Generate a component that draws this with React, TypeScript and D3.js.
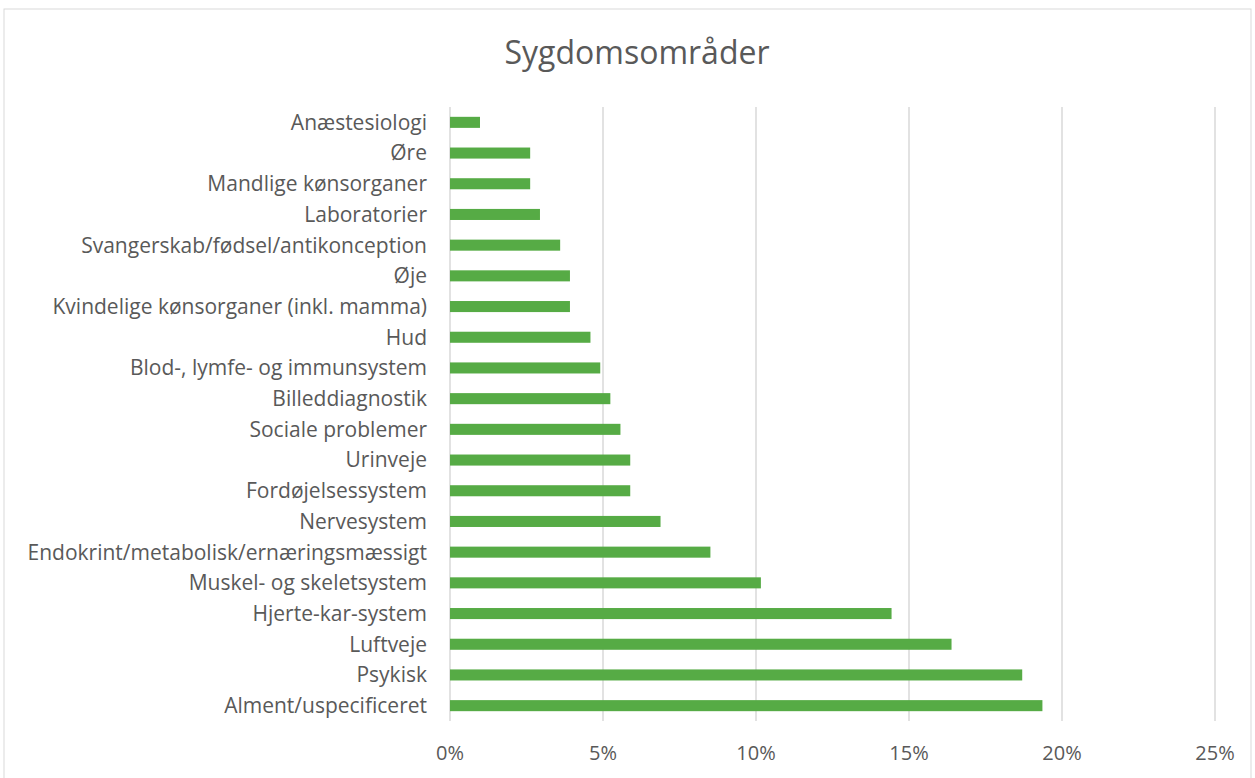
import * as d3 from 'd3';

const categories = [
  'Anæstesiologi',
  'Øre',
  'Mandlige kønsorganer',
  'Laboratorier',
  'Svangerskab/fødsel/antikonception',
  'Øje',
  'Kvindelige kønsorganer (inkl. mamma)',
  'Hud',
  'Blod-, lymfe- og immunsystem',
  'Billeddiagnostik',
  'Sociale problemer',
  'Urinveje',
  'Fordøjelsessystem',
  'Nervesystem',
  'Endokrint/metabolisk/ernæringsmæssigt',
  'Muskel- og skeletsystem',
  'Hjerte-kar-system',
  'Luftveje',
  'Psykisk',
  'Alment/uspecificeret',
];

const values = [
  0.0098, 0.0262, 0.0262, 0.0294, 0.036, 0.0392, 0.0392, 0.0459, 0.0491, 0.0524,
  0.0557, 0.0589, 0.0589, 0.0688, 0.0851, 0.1016, 0.1443, 0.1639, 0.187, 0.1936,
];

const ticks = [0, 0.05, 0.1, 0.15, 0.2, 0.25];

const W = 1255;
const H = 778;
const plot = { left: 450, right: 1215, top: 107, bottom: 721 };
const font = "'Open Sans', sans-serif";
const textColor = '#595959';

export default function App() {
  const x = d3.scaleLinear().domain([0, 0.25]).range([plot.left, plot.right]);
  const y = d3
    .scaleBand<string>()
    .domain(categories)
    .range([plot.top, plot.bottom])
    .paddingInner(0.64)
    .paddingOuter(0.32);
  const fmt = d3.format('.0%');

  return (
    <svg
      width={W}
      height={H}
      style={{ position: 'absolute', left: 0, top: 0, background: '#fff' }}
    >
      <rect x={4} y={9} width={1247} height={790} fill="#fff" stroke="#d9d9d9" strokeWidth={1} />
      <text
        x={637}
        y={64}
        textAnchor="middle"
        fontFamily={font}
        fontSize={32}
        fill={textColor}
      >
        Sygdomsområder
      </text>
      {ticks.map((t) => (
        <g key={t}>
          <line
            x1={x(t)}
            x2={x(t)}
            y1={plot.top}
            y2={plot.bottom}
            stroke="#d9d9d9"
            strokeWidth={1.5}
          />
          <text
            x={x(t)}
            y={760}
            textAnchor="middle"
            fontFamily={font}
            fontSize={20}
            fill={textColor}
          >
            {fmt(t)}
          </text>
        </g>
      ))}
      {categories.map((c, i) => (
        <g key={c}>
          <rect
            x={x(0)}
            y={y(c)!}
            width={x(values[i]) - x(0)}
            height={y.bandwidth()}
            fill="#56ab45"
          />
          <text
            x={427}
            y={y(c)! + y.bandwidth() / 2}
            dy="0.35em"
            textAnchor="end"
            fontFamily={font}
            fontSize={21}
            fill={textColor}
          >
            {c}
          </text>
        </g>
      ))}
    </svg>
  );
}
